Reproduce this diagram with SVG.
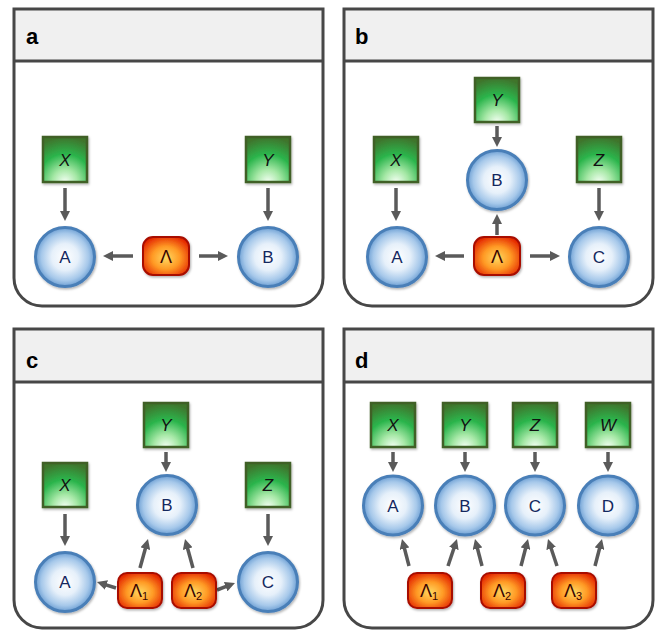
<svg xmlns="http://www.w3.org/2000/svg" width="657" height="631" viewBox="0 0 657 631">
<defs>
<radialGradient id="gCirc" cx="50%" cy="50%" r="50%">
<stop offset="0" stop-color="#ffffff"/>
<stop offset="0.45" stop-color="#e6f0fa"/>
<stop offset="0.8" stop-color="#a6c8ea"/>
<stop offset="1" stop-color="#6d9fd3"/>
</radialGradient>
<radialGradient id="gBox" cx="50%" cy="100%" r="100%">
<stop offset="0" stop-color="#f4fff4"/>
<stop offset="0.28" stop-color="#a6e8a6"/>
<stop offset="0.62" stop-color="#2bb54c"/>
<stop offset="1" stop-color="#3f742c"/>
</radialGradient>
<radialGradient id="gLam" cx="50%" cy="55%" r="60%">
<stop offset="0" stop-color="#ffd860"/>
<stop offset="0.5" stop-color="#ff9a25"/>
<stop offset="1" stop-color="#e42800"/>
</radialGradient>
<filter id="sh" x="-20%" y="-20%" width="150%" height="150%">
<feDropShadow dx="1" dy="1.5" stdDeviation="1.2" flood-color="#000" flood-opacity="0.3"/>
</filter>
<marker id="ah" viewBox="0 0 10 10" refX="4" refY="5" markerWidth="10" markerHeight="10" markerUnits="userSpaceOnUse" orient="auto">
<path d="M0,0 L10,5 L0,10 Z" fill="#5a5a5a"/>
</marker>
</defs>
<style>
.frame{fill:none;stroke:#474747;stroke-width:3}
.hdr{fill:#f0f0f0}
.plabel{font-family:"Liberation Sans",Arial,sans-serif;font-weight:bold;font-size:22px;fill:#000}
.circ{fill:url(#gCirc);stroke:#4a7fb8;stroke-width:3;filter:url(#sh)}
.box{fill:url(#gBox);stroke:#3f6128;stroke-width:2.5;filter:url(#sh)}
.lam{fill:url(#gLam);stroke:#a80e00;stroke-width:2;filter:url(#sh)}
.ct{font-family:"Liberation Sans",Arial,sans-serif;font-size:17px;fill:#14285f;text-anchor:middle}
.bt{font-family:"Liberation Sans",Arial,sans-serif;font-size:17px;font-style:italic;fill:#111;text-anchor:middle}
.lt{font-family:"Liberation Sans",Arial,sans-serif;font-size:18px;fill:#3a0500;text-anchor:middle}
.sub{font-size:11px}
.arr line{stroke:#5a5a5a;stroke-width:3.5;marker-end:url(#ah)}
</style>

<!-- Panel frames -->
<g id="panel-a-frame">
<rect class="hdr" x="14" y="9" width="309" height="52"/>
<line x1="14" y1="61" x2="323" y2="61" stroke="#474747" stroke-width="3"/>
<path class="frame" d="M14,9 H323 V278 A28,28 0 0 1 295,306 H42 A28,28 0 0 1 14,278 Z"/>
<text class="plabel" x="26" y="44">a</text>
</g>
<g id="panel-b-frame">
<rect class="hdr" x="344" y="9" width="309" height="52"/>
<line x1="344" y1="61" x2="653" y2="61" stroke="#474747" stroke-width="3"/>
<path class="frame" d="M344,9 H653 V278 A28,28 0 0 1 625,306 H372 A28,28 0 0 1 344,278 Z"/>
<text class="plabel" x="355" y="44">b</text>
</g>
<g id="panel-c-frame">
<rect class="hdr" x="14" y="329" width="309" height="53"/>
<line x1="14" y1="382" x2="323" y2="382" stroke="#474747" stroke-width="3"/>
<path class="frame" d="M14,329 H323 V600 A28,28 0 0 1 295,628 H42 A28,28 0 0 1 14,600 Z"/>
<text class="plabel" x="26" y="368">c</text>
</g>
<g id="panel-d-frame">
<rect class="hdr" x="344" y="329" width="309" height="53"/>
<line x1="344" y1="382" x2="653" y2="382" stroke="#474747" stroke-width="3"/>
<path class="frame" d="M344,329 H653 V600 A28,28 0 0 1 625,628 H372 A28,28 0 0 1 344,600 Z"/>
<text class="plabel" x="355" y="368">d</text>
</g>

<!-- Connectors -->
<g id="connectors" class="arr">
<!-- a -->
<line x1="65" y1="188" x2="65" y2="215"/>
<line x1="268" y1="188" x2="268" y2="215"/>
<line x1="133" y1="256" x2="109" y2="256"/>
<line x1="199" y1="256" x2="222" y2="256"/>
<!-- b -->
<line x1="396" y1="188" x2="396" y2="215"/>
<line x1="497" y1="126" x2="497" y2="141"/>
<line x1="497" y1="235" x2="497" y2="220"/>
<line x1="464" y1="256" x2="441" y2="256"/>
<line x1="530" y1="256" x2="554" y2="256"/>
<line x1="599" y1="188" x2="599" y2="215"/>
<!-- c -->
<line x1="166" y1="452" x2="166" y2="466"/>
<line x1="65" y1="514" x2="65" y2="540"/>
<line x1="268" y1="514" x2="268" y2="540"/>
<line x1="116" y1="588" x2="102.7" y2="583.8"/>
<line x1="140" y1="568" x2="146.4" y2="544.8"/>
<line x1="193" y1="568" x2="186.6" y2="544.8"/>
<line x1="217" y1="590" x2="229.4" y2="585.2"/>
<!-- d -->
<line x1="393" y1="452" x2="393" y2="466"/>
<line x1="465" y1="452" x2="465" y2="466"/>
<line x1="535" y1="452" x2="535" y2="466"/>
<line x1="608" y1="452" x2="608" y2="466"/>
<line x1="409" y1="566" x2="403.5" y2="544.8"/>
<line x1="448" y1="566" x2="455.1" y2="544.7"/>
<line x1="482" y1="566" x2="476.5" y2="544.8"/>
<line x1="521" y1="566" x2="526.5" y2="544.8"/>
<line x1="557" y1="566" x2="549.9" y2="544.7"/>
<line x1="595" y1="566" x2="600.5" y2="544.8"/>
</g>

<!-- Panel a nodes -->
<g id="a-X"><rect class="box" x="43" y="137" width="44" height="45"/><text class="bt" x="65" y="166">X</text></g>
<g id="a-Y"><rect class="box" x="246" y="137" width="44" height="45"/><text class="bt" x="268" y="166">Y</text></g>
<g id="a-A"><circle class="circ" cx="65" cy="257" r="29.5"/><text class="ct" x="65" y="263">A</text></g>
<g id="a-B"><circle class="circ" cx="268" cy="257" r="29.5"/><text class="ct" x="268" y="263">B</text></g>
<g id="a-L"><rect class="lam" x="143" y="237" width="46" height="38" rx="10"/><text class="lt" x="166" y="263">Λ</text></g>

<!-- Panel b nodes -->
<g id="b-X"><rect class="box" x="374" y="137" width="44" height="45"/><text class="bt" x="396" y="166">X</text></g>
<g id="b-Y"><rect class="box" x="475" y="78" width="44" height="44"/><text class="bt" x="497" y="106">Y</text></g>
<g id="b-Z"><rect class="box" x="577" y="137" width="44" height="45"/><text class="bt" x="599" y="166">Z</text></g>
<g id="b-B"><circle class="circ" cx="497" cy="180" r="29.5"/><text class="ct" x="497" y="186">B</text></g>
<g id="b-A"><circle class="circ" cx="397" cy="257" r="29.5"/><text class="ct" x="397" y="263">A</text></g>
<g id="b-C"><circle class="circ" cx="599" cy="257" r="29.5"/><text class="ct" x="599" y="263">C</text></g>
<g id="b-L"><rect class="lam" x="474" y="237" width="46" height="38" rx="10"/><text class="lt" x="497" y="263">Λ</text></g>

<!-- Panel c nodes -->
<g id="c-Y"><rect class="box" x="144" y="403" width="44" height="44"/><text class="bt" x="166" y="431">Y</text></g>
<g id="c-X"><rect class="box" x="43" y="463" width="44" height="44"/><text class="bt" x="65" y="491">X</text></g>
<g id="c-Z"><rect class="box" x="246" y="463" width="44" height="44"/><text class="bt" x="268" y="491">Z</text></g>
<g id="c-B"><circle class="circ" cx="167" cy="505" r="29.5"/><text class="ct" x="167" y="511">B</text></g>
<g id="c-A"><circle class="circ" cx="65" cy="582" r="29.5"/><text class="ct" x="65" y="588">A</text></g>
<g id="c-C"><circle class="circ" cx="268" cy="582" r="29.5"/><text class="ct" x="268" y="588">C</text></g>
<g id="c-L1"><rect class="lam" x="118" y="573" width="44" height="35" rx="9"/><text class="lt" x="139" y="597">Λ<tspan class="sub" dy="3">1</tspan></text></g>
<g id="c-L2"><rect class="lam" x="172" y="573" width="44" height="35" rx="9"/><text class="lt" x="193" y="597">Λ<tspan class="sub" dy="3">2</tspan></text></g>

<!-- Panel d nodes -->
<g id="d-X"><rect class="box" x="371" y="403" width="44" height="44"/><text class="bt" x="393" y="431">X</text></g>
<g id="d-Y"><rect class="box" x="443" y="403" width="44" height="44"/><text class="bt" x="465" y="431">Y</text></g>
<g id="d-Z"><rect class="box" x="513" y="403" width="44" height="44"/><text class="bt" x="535" y="431">Z</text></g>
<g id="d-W"><rect class="box" x="586" y="403" width="44" height="44"/><text class="bt" x="608" y="431">W</text></g>
<g id="d-A"><circle class="circ" cx="393" cy="505.5" r="29.5"/><text class="ct" x="393" y="511.5">A</text></g>
<g id="d-B"><circle class="circ" cx="465" cy="505.5" r="29.5"/><text class="ct" x="465" y="511.5">B</text></g>
<g id="d-C"><circle class="circ" cx="535" cy="505.5" r="29.5"/><text class="ct" x="535" y="511.5">C</text></g>
<g id="d-D"><circle class="circ" cx="608" cy="505.5" r="29.5"/><text class="ct" x="608" y="511.5">D</text></g>
<g id="d-L1"><rect class="lam" x="408" y="573" width="44" height="35" rx="9"/><text class="lt" x="429" y="597">Λ<tspan class="sub" dy="3">1</tspan></text></g>
<g id="d-L2"><rect class="lam" x="481" y="573" width="44" height="35" rx="9"/><text class="lt" x="502" y="597">Λ<tspan class="sub" dy="3">2</tspan></text></g>
<g id="d-L3"><rect class="lam" x="552" y="573" width="44" height="35" rx="9"/><text class="lt" x="573" y="597">Λ<tspan class="sub" dy="3">3</tspan></text></g>
</svg>
